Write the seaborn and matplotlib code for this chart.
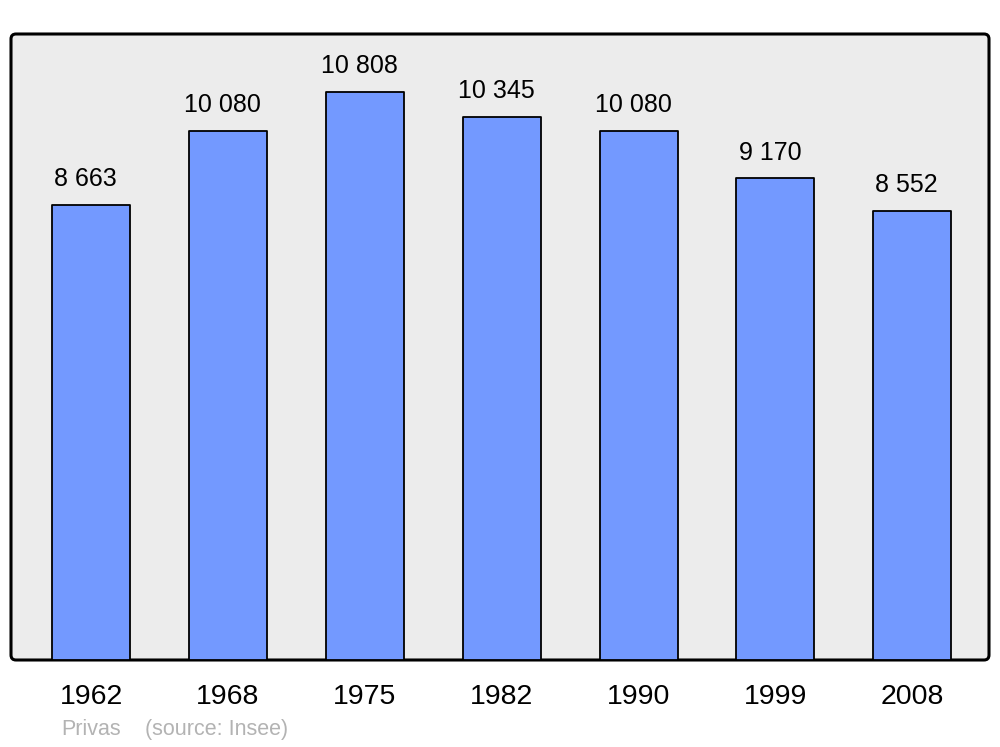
import matplotlib
matplotlib.use("Agg")
import matplotlib.pyplot as plt
from matplotlib.patches import FancyBboxPatch
from matplotlib.transforms import IdentityTransform
import seaborn as sns
import pandas as pd

# population of Privas, values from the census
years = ["1962", "1968", "1975", "1982", "1990", "1999", "2008"]
population = [8663, 10080, 10808, 10345, 10080, 9170, 8552]
value_labels = ["8 663", "10 080", "10 808", "10 345", "10 080", "9 170", "8 552"]
source_text = ["Privas", "(source: Insee)"]

sns.set_style("white")
plt.rcParams["font.family"] = ["Liberation Sans", "DejaVu Sans"]
plt.rcParams["text.color"] = "black"
plt.rcParams["xtick.color"] = "black"

df = pd.DataFrame({"year": years, "pop": population})

fig = plt.figure(figsize=(10, 7.47), dpi=100)
ax = fig.add_axes([0.011, 0.1165, 0.978, 0.838])
ax.set_facecolor("none")

# rounded frame drawn in pixels behind the axes
frame = FancyBboxPatch((11, 747 - 660), 978, 626,
                       boxstyle="round,pad=0,rounding_size=5",
                       transform=IdentityTransform(),
                       facecolor="#ececec", edgecolor="black", linewidth=2.2,
                       zorder=0)
fig.add_artist(frame)

sns.barplot(data=df, x="year", y="pop", ax=ax, color="#7399ff",
            edgecolor="black", linewidth=1.3, width=0.57, saturation=1)
for p in ax.patches:
    p.set_joinstyle("round")

for i, (v, lab) in enumerate(zip(population, value_labels)):
    ax.annotate(lab, (i, v), xytext=(-4, 10), textcoords="offset points",
                ha="center", va="bottom", fontsize=18, color="black")

ax.set_xlim(-0.585, 6.56)
ax.set_ylim(0, 11920)
for s in ax.spines.values():
    s.set_visible(False)
ax.set_yticks([])
ax.set_xlabel("")
ax.set_ylabel("")
ax.tick_params(axis="x", length=0, pad=17.5, labelsize=20.5, labelcolor="black")

fig.text(0.061, 0.023, source_text[0], color="#b3b3b3", fontsize=15.5, ha="left", va="center")
fig.text(0.145, 0.023, source_text[1], color="#b3b3b3", fontsize=15.5, ha="left", va="center")

fig.savefig("out.png", dpi=100)
